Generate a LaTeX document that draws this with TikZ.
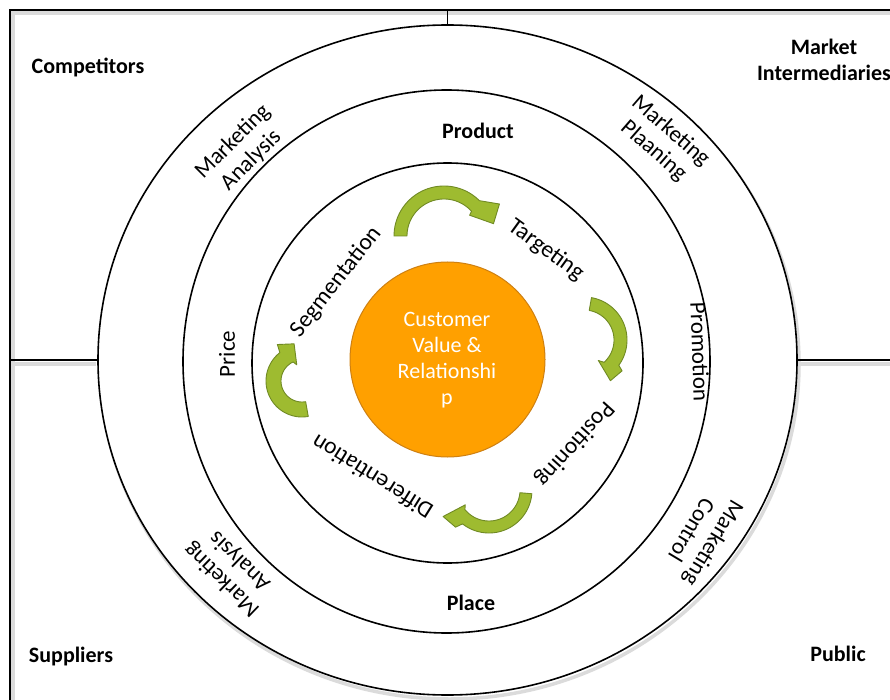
\documentclass[tikz,border=0pt]{standalone}
\usepackage{fontspec}
\setmainfont{Carlito}
\usetikzlibrary{shapes.geometric}
\definecolor{arrowfill}{RGB}{158,187,48}
\definecolor{arrowline}{RGB}{112,138,36}
\definecolor{hubfill}{RGB}{255,160,0}
\definecolor{hubline}{RGB}{206,128,18}
\begin{document}
\begin{tikzpicture}[x=1pt,y=-1pt,
  ring/.style={draw=black, line width=1.6pt, ellipse, inner sep=0pt, outer sep=0pt},
  frameline/.style={draw=black, line width=1.4pt},
  shadowline/.style={draw=black!14, line width=3.5pt},
  arrowshape/.style={fill=arrowfill, draw=arrowline, line width=0.9pt, line join=round},
  cornertext/.style={font=\fontsize{22}{26}\selectfont\bfseries, align=center},
  mixbold/.style={font=\fontsize{22}{26}\selectfont\bfseries},
  mixtext/.style={font=\fontsize{23}{26}\selectfont},
  ringtext/.style={font=\fontsize{23}{26}\selectfont, align=center},
  stptext/.style={font=\fontsize{23.5}{26}\selectfont},
  hubtext/.style={font=\fontsize{22}{26}\selectfont, text=white, align=center},
]
\useasboundingbox (0,0) rectangle (890,700);
\clip (0,0) rectangle (890,700);

% frame
\coordinate (frameTL) at (10,10);
\coordinate (frameBL) at (10,710);
\coordinate (frameTR) at (900,10);
\coordinate (frameL) at (10,0);
\coordinate (frameR) at (900,0);
\draw[shadowline] (13,710) -- (13,13) -- (900,13);
\draw[frameline] (frameBL) -- (frameTL) -- (frameTR);

% outer ellipse with shadow
\draw[shadowline] (449.5,364) ellipse [x radius=349.5pt, y radius=335pt];
\node[ring, fill=white, minimum width=699pt, minimum height=670pt] (outer) at (447.5,360) {};
\draw[shadowline] (13,364) -- (96,364);
\draw[shadowline] (800,364) -- (900,364);
\draw[frameline] (outer.north) -- (outer.north |- frameTL);
\draw[frameline] (outer.west) -- (outer.west -| frameL);
\draw[frameline] (outer.east) -- (outer.east -| frameR);

% middle and inner ellipses
\node[ring, minimum width=527pt, minimum height=543pt] (middle) at (446.5,361.5) {};
\node[ring, minimum width=391pt, minimum height=400pt] (inner) at (447.5,363) {};

% hub
\node[circle, fill=hubfill, draw=hubline, line width=1pt, minimum size=195pt, inner sep=0pt] (hub) at (447.5,359.5) {};
\node[hubtext] (hubtxt) at (447,360) {Customer\\Value \&\\Relationshi\\p};

% curved arrows (clockwise)
\begin{scope}[shift={(444,236)}]
\path[arrowshape] plot[domain=180:315,samples=50] (\x:50) -- (330:64) -- (346:51) -- (321:33)
  -- plot[domain=318:180,samples=50] (\x:37) -- cycle;
\end{scope}
\begin{scope}[shift={(584,340)}]
\path[arrowshape] plot[domain=-80:36,samples=50] (\x:43) -- (39:49) -- (57:48.5) -- (55:25)
  -- plot[domain=48:-80,samples=50] (\x:30) -- cycle;
\end{scope}
\begin{scope}[shift={(489,490)}]
\path[arrowshape] plot[domain=5:128,samples=50] (\x:43) -- (132:50) -- (150:53) -- (148:28)
  -- plot[domain=141:5,samples=50] (\x:31) -- cycle;
\end{scope}
\begin{scope}[shift={(302,381)}]
\path[arrowshape] plot[domain=80:232,samples=50] (\x:36) -- (236:44) -- (258:38) -- (252:17)
  -- plot[domain=245:80,samples=50] (\x:21) -- cycle;
\end{scope}

% corner labels
\node[cornertext] (competitors) at (88,67) {Competitors};
\node[cornertext] (intermediaries) at (824,60) {Market\\Intermediaries};
\node[cornertext] (suppliers) at (71,657) {Suppliers};
\node[cornertext] (public) at (838,654) {Public};

% outer ring labels
\node[ringtext, rotate=45] (analysisTL) at (242,151) {Marketing\\Analysis};
\node[ringtext, rotate=-41] (planning) at (662,141) {Marketing\\Plaaning};
\node[ringtext, rotate=-121] (control) at (703,537) {Marketing\\Control};
\node[ringtext, rotate=136] (analysisBL) at (231,570) {Marketing\\Analysis};

% marketing mix labels
\node[mixbold] (product) at (478,131) {Product};
\node[mixbold] (place) at (471,603) {Place};
\node[mixtext, rotate=90] (price) at (227,354) {Price};
\node[mixtext, rotate=-88] (promotion) at (700,352) {Promotion};

% STP labels
\node[stptext, rotate=52] (segmentation) at (336,282) {Segmentation};
\node[stptext, rotate=-36] (targeting) at (546,250) {Targeting};
\node[stptext, rotate=-132] (positioning) at (575,444) {Positioning};
\node[stptext, rotate=148] (differentiation) at (372,477) {Differentiation};
\end{tikzpicture}
\end{document}
